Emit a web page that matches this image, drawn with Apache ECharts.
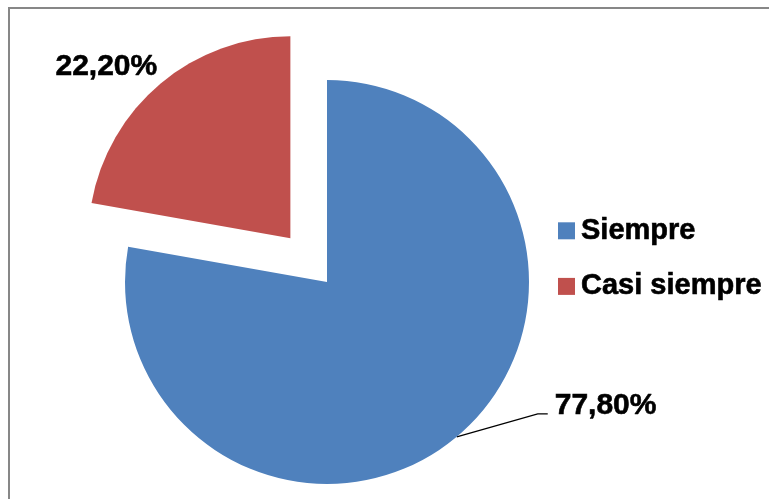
<!DOCTYPE html>
<html>
<head>
<meta charset="utf-8">
<script src="https://cdn.jsdelivr.net/npm/echarts@6/dist/echarts.min.js"></script>
<style>
  html, body { margin: 0; padding: 0; background: #fff; }
  #frame { position: absolute; left: 8px; top: 7px; width: 900px; height: 700px;
           border-left: 2px solid #878787; border-top: 2px solid #878787; }
  #chart { position: absolute; left: 0; top: 0; width: 769px; height: 499px; }
</style>
</head>
<body>
<div id="frame"></div>
<div id="chart"></div>
<script>
// Response categories and their shares (%)
const categories = ['Siempre', 'Casi siempre'];
const shares = [77.8, 22.2];
const sliceColors = ['#4F81BD', '#C0504D'];
// The smaller slice is pulled out from the pie
const pulledOut = [false, true];

const fmtPct = v => v.toFixed(2).replace('.', ',') + '%';

const chart = echarts.init(document.getElementById('chart'), null, { renderer: 'canvas' });

const data = categories.map((name, i) => ({
  name: name,
  value: shares[i],
  selected: pulledOut[i],
  itemStyle: { color: sliceColors[i] },
  labelLine: { show: i === 0 }
}));

chart.setOption({
  animation: false,
  backgroundColor: 'transparent',
  legend: {
    orient: 'vertical',
    left: 553,
    top: 211,
    itemWidth: 17,
    itemHeight: 17,
    itemGap: 26,
    icon: 'rect',
    selectedMode: false,
    textStyle: {
      fontFamily: 'Liberation Sans, Arial, sans-serif',
      fontWeight: 'bold',
      fontSize: 29,
      color: '#000',
      textBorderColor: '#000',
      textBorderWidth: 0.6,
      padding: [0, 0, 0, 1]
    },
    data: categories
  },
  series: [{
    type: 'pie',
    center: [327, 282],
    radius: 202,
    startAngle: 90,
    clockwise: true,
    selectedMode: 'single',
    selectedOffset: 57,
    emphasis: { disabled: true },
    select: { itemStyle: {} },
    label: {
      show: true,
      position: 'outside',
      formatter: p => fmtPct(p.value),
      fontFamily: 'Liberation Sans, Arial, sans-serif',
      fontWeight: 'bold',
      fontSize: 30,
      color: '#000',
      textBorderColor: '#000',
      textBorderWidth: 0.6
    },
    labelLine: {
      show: true,
      length: 10,
      length2: 10,
      lineStyle: { color: '#000', width: 1.3 }
    },
    labelLayout: function (p) {
      if (p.dataIndex === 1) {
        // pulled-out slice: nudge the label next to the outer arc
        return { dx: 18, dy: -9 };
      }
      const pts = p.labelLinePoints;
      if (!pts) return {};
      const a = pts[0];
      return {
        x: a[0] + 98, y: a[1] - 31, align: 'left', verticalAlign: 'middle',
        labelLinePoints: [a, [a[0] + 81, a[1] - 23], [a[0] + 91, a[1] - 23]]
      };
    },
    data: data
  }]
});
</script>
</body>
</html>
